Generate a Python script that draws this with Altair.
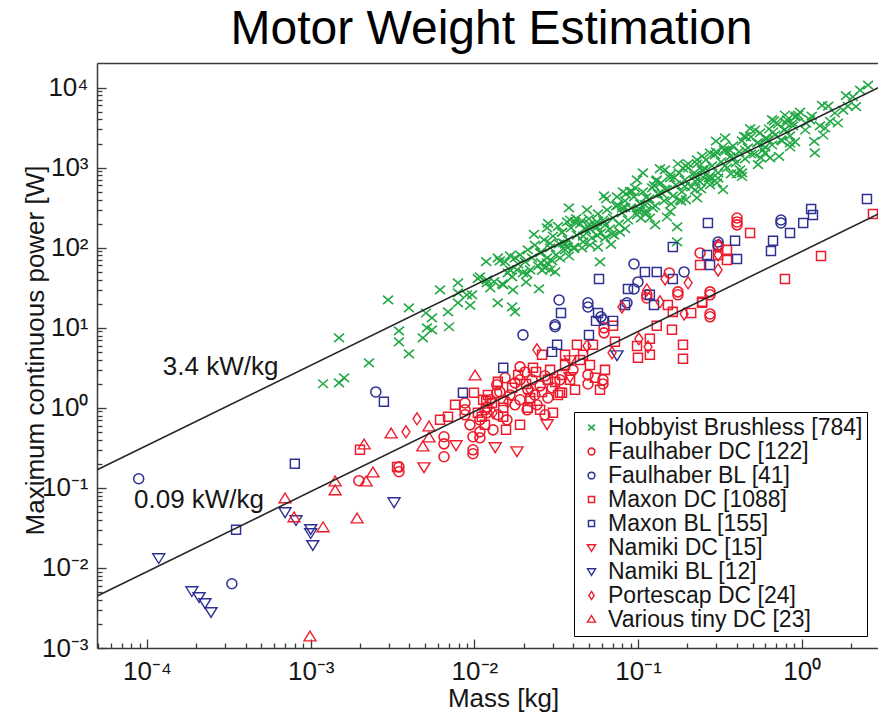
import altair as alt
import pandas as pd

FONT = "Liberation Sans"

# ---------------- data ----------------
series_names = ["Hobbyist Brushless [784]", "Faulhaber DC [122]", "Faulhaber BL [41]",
                "Maxon DC [1088]", "Maxon BL [155]", "Namiki DC [15]", "Namiki BL [12]",
                "Portescap DC [24]", "Various tiny DC [23]"]

hb_mass = [1.19e-3, 1.49e-3, 1.6e-3, 1.49e-3, 2.27e-3, 2.97e-3, 3.98e-3, 3.46e-3, 3.46e-3, 3.98e-3,
           5.06e-3, 5.5e-3, 5.13e-3, 4.84e-3, 5.5e-3, 6.17e-3, 6.9e-3, 7.0e-3, 7.94e-3, 7.94e-3,
           9.0e-3, 7.94e-3, 0.0119, 0.0119, 0.0139, 0.015, 0.017, 0.017, 0.0177, 0.0172,
           0.0182, 0.0248, 0.0198, 0.0278, 0.0378, 0.019, 0.0165, 0.0139, 0.0154, 0.0252,
           0.0278, 0.029, 0.0348, 0.0384, 0.0487, 0.0561, 0.061, 0.0743, 0.0809, 0.0985,
           0.107, 0.130, 0.157, 0.188, 0.229, 0.275, 0.330, 0.249, 0.303, 0.229,
           0.173, 0.173, 0.127, 0.0585,
           0.0204, 0.0212, 0.0225, 0.0234, 0.0245, 0.0255, 0.0266, 0.0278, 0.029, 0.0302,
           0.0315, 0.0329, 0.0343, 0.0358, 0.0373, 0.0389, 0.0406, 0.0423, 0.0442, 0.0461,
           0.048, 0.0501, 0.0523, 0.0545, 0.0569, 0.0593, 0.0619, 0.0646, 0.0673, 0.0703,
           0.0733, 0.0764, 0.0797, 0.0832, 0.0867, 0.0905, 0.0944, 0.0985, 0.103, 0.107,
           0.112, 0.117, 0.122, 0.127, 0.132, 0.138, 0.144, 0.150, 0.157, 0.163,
           0.170, 0.178, 0.185, 0.193, 0.202, 0.211, 0.220, 0.229, 0.239, 0.249,
           0.260, 0.271, 0.283, 0.295, 0.308, 0.321, 0.335, 0.349, 0.364, 0.380,
           0.396, 0.413, 0.431, 0.450, 0.469, 0.489, 0.511, 0.533, 0.555, 0.579,
           0.604, 0.631, 0.658, 0.686, 0.716, 0.746, 0.778, 0.812, 0.847, 0.884,
           0.922,
           0.0219, 0.027, 0.0333, 0.0412, 0.0508, 0.0628, 0.0775, 0.0958, 0.118, 0.146,
           0.180, 0.223, 0.275, 0.340, 0.419, 0.518, 0.640, 0.789,
           2.54, 2.05, 1.79, 1.59, 1.39, 1.35, 1.20, 0.909, 0.884, 0.909,
           0.667, 0.622, 0.431, 1.12, 1.05, 0.975, 2.27,
           9.67e-3, 0.0108, 0.0125, 0.0143, 0.016, 0.0177, 0.021, 0.0298, 0.0368, 0.0454,
           0.0561, 0.0693, 0.0843, 0.104, 0.129, 0.159, 0.196, 0.242, 0.299, 0.369,
           0.456, 0.563, 0.695, 0.847, 1.15, 1.29, 1.45, 1.91, 1.66,
           9.42e-3, 0.0105, 0.0118, 0.0132, 0.0148, 0.0165, 0.0185, 0.0207, 0.0231, 0.0259,
           0.029, 0.0324, 0.0363, 0.0406, 0.0454, 0.0508, 0.0569, 0.0637, 0.0713, 0.0797,
           0.0893, 0.0998, 0.112, 0.125, 0.140, 0.157, 0.175, 0.196, 0.220, 0.246,
           0.275, 0.308, 0.344, 0.385, 0.431, 0.483, 0.540, 0.604, 0.676, 0.757,
           0.847, 0.948, 1.06, 1.19, 1.33, 1.49, 1.86, 2.14,
           0.0358, 0.0474, 0.0628, 0.0832, 0.110, 0.146, 0.193, 0.256, 0.340, 0.450,
           0.596, 0.789,
           0.0255, 0.0282, 0.0311, 0.0343, 0.0378, 0.0418, 0.0461, 0.0508, 0.0561, 0.0619,
           0.0683, 0.0753, 0.0832, 0.0918, 0.101, 0.112, 0.123, 0.136, 0.150, 0.166,
           0.183, 0.202, 0.223, 0.246, 0.271, 0.299, 0.330, 0.364, 0.402, 0.444,
           0.489, 0.540, 0.596, 0.658, 0.726, 0.800]
hb_power = [2.0, 2.05, 2.37, 7.5, 3.65, 22.3, 17.7, 9.15, 6.67, 4.72,
            15.3, 13.3, 10.0, 7.48, 9.4, 29.7, 15.8, 10.3, 36.4, 27.3,
            25.8, 20.5, 39.6, 36.4, 20.5, 34.3, 43.2, 18.2, 15.8, 29.7,
            52.8, 30.6, 48.4, 177, 314, 81.3, 52.8, 74.6, 66.5, 86.1,
            64.6, 52.8, 115, 222, 297, 182, 222, 431, 497, 702,
            859, 702, 811, 991, 1248, 1527, 1813, 765, 644, 419,
            182, 118, 193, 66.5,
            66.5, 94, 74.6, 108, 59.3, 88.6, 125, 74.6, 99.5, 140,
            81.3, 112, 157, 94, 125, 177, 102, 144, 198, 118,
            167, 229, 133, 187, 264, 153, 210, 297, 172, 235,
            333, 198, 272, 384, 222, 314, 431, 257, 352, 497,
            288, 407, 558, 333, 470, 644, 384, 527, 744, 443,
            608, 859, 497, 702, 991, 574, 788, 1112, 663, 910,
            1248, 744, 1050, 1441, 859, 1178, 1663, 991, 1360, 1866,
            1145, 1571, 2155, 1284, 1762, 2418, 1482, 2034, 2712, 1663,
            2282, 3042, 1920, 2559, 3513, 2218, 2956, 3942, 2489, 3318,
            4418,
            52.8, 56, 74.6, 210, 108, 133, 157, 558, 235, 936,
            395, 527, 608, 2350, 936, 2956, 1322, 4550,
            10770, 7640, 5250, 4820, 3130, 2560, 1527, 4295, 3615, 2094,
            2790, 2218, 859, 3942, 2956, 4955, 9330,
            25.8, 43.2, 31.5, 68.4, 48.4, 74.6, 47.1, 68.4, 210, 99.5,
            210, 149, 470, 235, 682, 352, 1050, 542, 1571, 834,
            2418, 1322, 3615, 2034, 4418, 3318, 5890, 5890, 3615,
            19.0, 41.2, 67.0, 37.6, 35.4, 79.0, 62.6, 37.2, 147, 52.2,
            113, 185, 104, 97.5, 217, 172, 102, 406, 144, 312,
            507, 285, 268, 598, 475, 282, 1119, 396, 859, 1396,
            783, 738, 1648, 1306, 776, 3076, 1089, 2361, 3837, 2162,
            1813, 4537, 3594, 2137, 5998, 3776, 7943, 5776,
            111, 175, 190, 317, 342, 539, 584, 975, 1057, 1663,
            1803, 3006,
            65.0, 202, 49.9, 155, 78.8, 231, 140, 194, 143, 443,
            110, 341, 173, 507, 307, 426, 314, 975, 242, 750,
            381, 1119, 675, 936, 690, 2149, 531, 1648, 837, 2459,
            1482, 2057, 1517, 3972, 1388, 3624]

fdc_mass = [8.76e-3, 8.76e-3, 8.76e-3, 0.0119, 0.0119, 0.013, 0.0108, 0.0108, 9.8e-3, 9.8e-3,
            9.8e-3, 6.52e-3, 6.52e-3, 6.52e-3, 0.021, 0.0137, 0.0137, 1.97e-3, 3.46e-3, 3.46e-3,
            0.155, 0.175, 0.175, 0.113, 0.113, 0.239, 0.275, 0.275, 0.275, 0.275,
            0.0619, 0.0619, 0.019, 0.019, 0.0494, 0.0494, 0.061, 0.061, 0.04, 0.402,
            0.402, 0.402, 0.308,
            0.0143, 0.0154, 0.0165, 0.0177, 0.019, 0.0204, 0.0212, 0.0225, 0.0234, 0.0252,
            0.027, 0.0281, 0.0298, 0.0125, 0.0116, 0.0139, 0.0158, 0.0177, 0.0241, 0.027,
            0.0108, 9.4e-3, 0.0333]
fdc_power = [1.15, 0.944, 0.818, 1.03, 0.867, 0.531, 0.501, 0.422, 0.435, 0.299,
             0.267, 0.435, 0.355, 0.245, 0.944, 1.94, 1.54, 0.123, 0.183, 0.159,
             48.4, 28.1, 25.8, 25.8, 23.6, 86.1, 28.1, 25.8, 14.9, 13.7,
             9.97, 8.64, 3.25, 2.24, 2.58, 1.99, 2.24, 1.99, 2.98, 235,
             210, 193, 102,
             1.58, 2.37, 1.45, 2.05, 1.26, 2.81, 1.68, 2.24, 1.45, 1.88,
             2.51, 1.33, 1.78, 1.26, 0.944, 0.818, 0.708, 1.09, 1.09, 0.818,
             0.708, 0.613, 2.24]

fbl_mass = [8.9e-5, 3.3e-4, 2.5e-3, 0.0944, 0.191, 0.0998, 0.0944, 0.0329, 0.0494, 0.0494,
            0.0311, 0.0311, 0.0593, 0.061, 0.0198, 0.308, 0.0855, 0.746, 0.746, 0.308]
fbl_power = [0.13, 6.35e-3, 1.58, 62.8, 49.9, 37.4, 30.6, 22.3, 20.5, 18.2,
             10.9, 10.3, 13.7, 12.6, 8.15, 108, 20.5, 204, 222, 118]

mdc_mass = [9.94e-3, 0.0118, 0.015, 6.9e-3, 0.0111, 0.015, 2.0e-3, 0.0343, 0.0219, 3.37e-3,
            0.239, 0.349, 0.152, 0.163, 0.211, 0.246, 0.161, 0.13, 0.118, 0.118,
            0.0985, 0.0998, 0.188, 0.188, 0.0703, 0.0722, 0.0423, 0.053, 0.0461, 0.0333,
            0.0259, 0.0228, 0.0281, 0.0113, 0.015, 0.0302, 0.0628, 0.0343, 0.0358, 0.308,
            0.483, 2.72, 1.31, 0.789, 0.349, 0.246,
            0.0121, 0.0128, 0.017, 0.0185, 0.0207, 0.0219, 0.0238, 0.0259, 0.029, 0.0311,
            0.0324, 0.0252, 0.0212, 0.0139, 0.0116, 0.0105, 0.0156, 0.019, 0.0358, 0.0384,
            0.0412, 0.0442, 0.0508, 0.0545, 0.0585, 6.17e-3, 7.62e-3]
mdc_power = [1.54, 1.22, 1.22, 0.772, 0.772, 0.772, 0.299, 1.54, 1.22, 0.183,
             61, 70.4, 19.3, 15.8, 15.3, 21.1, 9.42, 10.6, 7.27, 4.59,
             5.94, 4.21, 6.12, 4.09, 10.6, 6.67, 6.12, 6.12, 4.59, 1.54,
             4.59, 3.16, 2.24, 1.26, 1.0, 0.867, 2.98, 2.58, 4.59, 81.3,
             153, 264, 79, 40.8, 94, 20.5,
             1.45, 1.15, 1.78, 2.58, 1.99, 1.33, 2.81, 1.58, 2.98, 2.11,
             1.45, 0.944, 1.0, 2.11, 0.613, 0.867, 0.531, 0.613, 3.44, 2.24,
             1.68, 3.97, 3.44, 2.37, 1.68, 0.708, 1.09]

mbl_mass = [8.0e-4, 3.5e-4, 2.8e-3, 8.51e-3, 0.163, 0.110, 0.130, 0.0577, 0.0338, 0.0569,
            0.0553, 0.0867, 0.0832, 0.0703, 0.0501, 0.032, 0.0298, 0.015, 0.264, 0.275,
            0.118, 0.125, 2.50, 1.14, 1.17, 1.02, 0.847, 0.667, 0.648, 0.391,
            0.402, 0.267, 0.163]
mbl_power = [0.2, 0.030, 1.19, 1.54, 102, 49.9, 49.9, 40.8, 15.3, 15.3,
             12.2, 30.6, 19.3, 12.2, 8.15, 6.12, 5.0, 3.16, 81.3, 61,
             25.8, 19.3, 407, 305, 257, 204, 153, 122, 91.2, 122,
             72.5, 204, 40.8]

ndc_mass = [7.72e-3, 4.92e-3, 0.0134, 0.0182, 0.0278, 0.0384, 0.0384]
ndc_power = [0.345, 0.183, 0.326, 0.290, 0.631, 3.97, 2.44]

nbl_mass = [1.18e-4, 1.88e-4, 2.08e-4, 2.26e-4, 2.46e-4, 6.97e-4, 8.13e-4, 1.0e-3, 1.0e-3, 1.03e-3,
            3.23e-3, 0.0743]
nbl_power = [0.0134, 5.19e-3, 4.37e-3, 3.68e-3, 2.84e-3, 0.0503, 0.040, 0.0309, 0.0275, 0.0195,
             0.067, 4.59]

pdc_mass = [4.46e-3, 3.82e-3, 0.013, 0.146, 0.202, 0.308, 0.312, 0.113, 0.136, 0.0797,
            0.191, 0.101, 0.115, 0.0241, 0.0487, 0.0693, 0.308, 0.016, 0.0219]
pdc_power = [0.729, 0.501, 0.867, 40.8, 36.4, 52.8, 108, 29.7, 21.1, 18.2,
             14.9, 7.27, 5.78, 5.3, 5.94, 4.86, 81.3, 1.19, 1.68]

vt_mass = [6.97e-4, 1.41e-3, 1.41e-3, 1.19e-3, 9.9e-4, 7.91e-4, 3.1e-3, 2.12e-3, 5.28e-3, 5.28e-3,
           4.84e-3, 2.4e-3, 2.18e-3, 1.92e-3, 0.0101]
vt_power = [0.0731, 0.119, 0.092, 0.0318, 1.38e-3, 0.0424, 0.473, 0.345, 0.579, 0.422,
            0.326, 0.154, 0.119, 0.0411, 2.51]

# reference lines (3.4 kW/kg and 0.09 kW/kg)
line_mass = [5e-5, 3.0]
line_34_power = [0.17, 10200]
line_009_power = [0.0045, 270]
line_labels = ["3.4 kW/kg", "0.09 kW/kg"]
line_label_mass = [1.25e-4, 8.33e-5]
line_label_power = [2.58, 0.0565]

# ---------------- build tables ----------------
groups = [(hb_mass, hb_power), (fdc_mass, fdc_power), (fbl_mass, fbl_power),
          (mdc_mass, mdc_power), (mbl_mass, mbl_power), (ndc_mass, ndc_power),
          (nbl_mass, nbl_power), (pdc_mass, pdc_power), (vt_mass, vt_power)]
rows = []
for name, (ms, ps) in zip(series_names, groups):
    for m, p in zip(ms, ps):
        rows.append({"series": name, "mass": m, "power": p})
df = pd.DataFrame(rows)

lines_df = pd.DataFrame({
    "mass": line_mass + line_mass,
    "power": line_34_power + line_009_power,
    "which": ["3.4", "3.4", "0.09", "0.09"],
})
text_df = pd.DataFrame({"mass": line_label_mass, "power": line_label_power, "label": line_labels})
dummy = pd.DataFrame({"mass": [0.01], "power": [1.0]})

# ---------------- styling ----------------
GREEN, RED, BLUE = "#22a844", "#ec1c2c", "#2e3192"
series_colors = [GREEN, RED, BLUE, RED, BLUE, RED, BLUE, RED, RED]
series_strokes = [1.6, 1.35, 1.35, 1.35, 1.35, 1.35, 1.35, 1.35, 1.35]
X_PATH = "M-1,-0.85L1,0.85M-1,0.85L1,-0.85"
SQ_PATH = "M-0.9,-0.9L0.9,-0.9L0.9,0.9L-0.9,0.9Z"
TD_PATH = "M-1.2,-0.8L1.2,-0.8L0,1.15Z"
TU_PATH = "M0,-1.15L1.2,0.8L-1.2,0.8Z"
DI_PATH = "M0,-1.2L0.8,0L0,1.2L-0.8,0Z"
series_shapes = [X_PATH, "circle", "circle", SQ_PATH, SQ_PATH, TD_PATH, TD_PATH, DI_PATH, TU_PATH]

XDOM = [4.95e-5, 2.92]
YDOM = [1e-3, 2.03e4]
W, H = 781, 585
AX = "#3a3a3a"
TXT = "#161616"

xs = alt.Scale(type="log", domain=XDOM, nice=False)
ys = alt.Scale(type="log", domain=YDOM, nice=False)

sup = {-4: "⁻⁴", -3: "⁻³", -2: "⁻²", -1: "⁻¹", 0: "⁰", 1: "¹", 2: "²", 3: "³", 4: "⁴"}
e = "round(log(datum.value)/LN10)"
label_expr = "'10' + (" + " : ".join(f"{e}=={k} ? '{v}'" for k, v in sup.items()) + " : '')"

x_major = [1e-4, 1e-3, 1e-2, 1e-1, 1.0]
y_major = [1e-3, 1e-2, 1e-1, 1.0, 10.0, 100.0, 1000.0, 10000.0]
x_minor = [k * 10.0 ** d for d in range(-5, 1) for k in range(2, 10)
           if XDOM[0] <= k * 10.0 ** d <= XDOM[1]]
y_minor = [k * 10.0 ** d for d in range(-3, 4) for k in range(2, 10)]

legend = alt.Legend(title=None, orient="none", legendX=477, legendY=349, direction="vertical",
                    labelFont=FONT, labelFontSize=23, labelColor=TXT, labelLimit=500,
                    symbolSize=45, symbolStrokeWidth=1.2, symbolOffset=2, labelOffset=5,
                    padding=4, rowPadding=0, strokeColor="black", fillColor="white", zindex=2)

points = alt.Chart(df).mark_point(filled=False, size=100, opacity=1, clip=True).encode(
    x=alt.X("mass:Q", scale=xs,
            axis=alt.Axis(orient="bottom", values=x_major, labelExpr=label_expr, ticks=False, tickSize=0,
                          labelPadding=10, title="Mass [kg]", titleX=406, titleY=58,
                          titleBaseline="alphabetic", titleAlign="center", labelFlush=False)),
    y=alt.Y("power:Q", scale=ys,
            axis=alt.Axis(orient="left", values=y_major, labelExpr=label_expr, ticks=False, tickSize=0,
                          labelPadding=9, title="Maximum continuous power [W]", titleX=-54, titleY=287,
                          titleAngle=270, titleBaseline="alphabetic", titleAlign="center", labelFlush=False)),
    color=alt.Color("series:N", scale=alt.Scale(domain=series_names, range=series_colors), legend=legend),
    shape=alt.Shape("series:N", scale=alt.Scale(domain=series_names, range=series_shapes), legend=legend),
    strokeWidth=alt.StrokeWidth("series:N", scale=alt.Scale(domain=series_names, range=series_strokes),
                                legend=None),
)

lines = alt.Chart(lines_df).mark_line(color="#262626", strokeWidth=1.6, clip=True).encode(
    x=alt.X("mass:Q", scale=xs, axis=None),
    y=alt.Y("power:Q", scale=ys, axis=None),
    detail="which:N",
)

texts = alt.Chart(text_df).mark_text(align="left", baseline="alphabetic", fontSize=26, font=FONT,
                                     color=TXT).encode(
    x=alt.X("mass:Q", scale=xs, axis=None),
    y=alt.Y("power:Q", scale=ys, axis=None),
    text="label:N",
)

major_ticks = alt.Chart(dummy).mark_point(opacity=0).encode(
    x=alt.X("mass:Q", scale=xs, title=None,
            axis=alt.Axis(orient="bottom", values=x_major, labels=False, domain=False, ticks=True,
                          tickSize=9, offset=-9)),
    y=alt.Y("power:Q", scale=ys, title=None,
            axis=alt.Axis(orient="left", values=y_major, labels=False, domain=False, ticks=True,
                          tickSize=9, offset=-9)),
)

minor_ticks = alt.Chart(dummy).mark_point(opacity=0).encode(
    x=alt.X("mass:Q", scale=xs, title=None,
            axis=alt.Axis(orient="bottom", values=x_minor, labels=False, domain=False, ticks=True,
                          tickSize=5, offset=-5)),
    y=alt.Y("power:Q", scale=ys, title=None,
            axis=alt.Axis(orient="left", values=y_minor, labels=False, domain=False, ticks=True,
                          tickSize=5, offset=-5)),
)

border = alt.Chart(dummy).mark_point(opacity=0).encode(
    x=alt.X("mass:Q", scale=xs, title=None,
            axis=alt.Axis(orient="top", labels=False, domain=True, ticks=False, tickSize=0)),
    y=alt.Y("power:Q", scale=ys, axis=None),
)

chart = alt.layer(points, lines, texts, major_ticks, minor_ticks, border).resolve_scale(
    x="independent", y="independent"
).properties(
    width=W, height=H,
    title=alt.Title("Motor Weight Estimation", font=FONT, fontSize=48, fontWeight="normal",
                    color="black", anchor="middle", baseline="alphabetic", offset=17, dx=4, dy=46),
    padding={"left": 97, "top": 63, "right": 0, "bottom": 64},
    autosize=alt.AutoSizeParams(type="none"),
).configure_view(stroke=None).configure_axis(
    labelFont=FONT, titleFont=FONT, labelFontSize=26, titleFontSize=26, titleFontWeight="normal",
    labelColor=TXT, titleColor=TXT, domainColor=AX, tickColor=AX, domainWidth=1.5, tickWidth=1.3,
    grid=False,
)

chart.save("out.html", embed_options={"renderer": "svg", "actions": False})
